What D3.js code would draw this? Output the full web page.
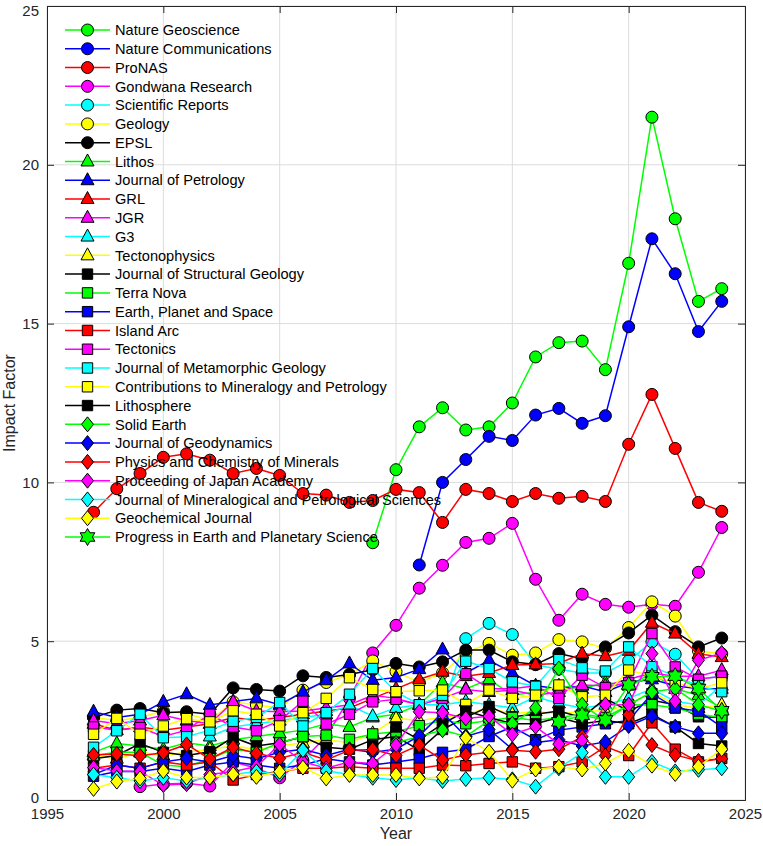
<!DOCTYPE html>
<html>
<head>
<meta charset="utf-8">
<script src="https://cdn.jsdelivr.net/npm/d3@7"></script>
<style>
body{margin:0;background:#fff;}
text{font-family:"Liberation Sans",Arial,Helvetica,sans-serif;}
</style>
</head>
<body>
<div id="wrapper"></div>
<script>
var years = d3.range(1997, 2025);
var xTicks = [1995,2000,2005,2010,2015,2020,2025];
var yTicks = [0,5,10,15,20,25];

var names = ['Nature Geoscience','Nature Communications','ProNAS','Gondwana Research','Scientific Reports','Geology','EPSL','Lithos','Journal of Petrology','GRL','JGR','G3','Tectonophysics','Journal of Structural Geology','Terra Nova','Earth, Planet and Space','Island Arc','Tectonics','Journal of Metamorphic Geology','Contributions to Mineralogy and Petrology','Lithosphere','Solid Earth','Journal of Geodynamics','Physics and Chemistry of Minerals','Proceeding of Japan Academy','Journal of Mineralogical and Petrological Sciences','Geochemical Journal','Progress in Earth and Planetary Science'];

// impact factor per year, 1997..2024 (null = no value)
var natureGeo = [null,null,null,null,null,null,null,null,null,null,null,null,8.1,10.4,11.75,12.35,11.65,11.75,12.5,13.95,14.4,14.45,13.55,16.9,21.5,18.3,15.7,16.1];
var natureComm = [null,null,null,null,null,null,null,null,null,null,null,null,null,null,7.4,10.0,10.72,11.45,11.32,12.12,12.33,11.86,12.1,14.9,17.67,16.57,14.75,15.7];
var pnas = [9.06,9.8,10.28,10.79,10.9,10.7,10.28,10.44,10.22,9.65,9.6,9.37,9.43,9.78,9.68,8.74,9.78,9.65,9.4,9.65,9.5,9.56,9.4,11.2,12.77,11.07,9.37,9.09];
var gondwana = [null,null,0.42,0.5,0.53,0.44,1.2,1.0,0.7,1.25,2.0,3.2,4.63,5.5,6.67,7.39,8.11,8.24,8.71,6.95,5.66,6.48,6.16,6.07,6.16,6.1,7.17,8.58];
var sciRep = [null,null,null,null,null,null,null,null,null,null,null,null,null,null,null,2.93,5.08,5.56,5.21,4.26,4.12,4.0,4.0,4.38,4.98,4.59,3.8,3.9];
var geology = [2.6,2.5,2.6,2.8,2.73,2.5,3.09,2.99,2.9,3.46,3.7,3.95,4.38,4.04,3.7,4.0,4.64,4.93,4.56,4.63,5.05,4.98,4.77,5.43,6.24,5.79,4.7,4.6];
var epsl = [2.6,2.83,2.88,2.75,2.78,2.7,3.53,3.48,3.43,3.91,3.86,3.95,4.1,4.3,4.19,4.35,4.72,4.72,4.35,4.27,4.61,4.45,4.82,5.26,5.82,5.3,4.82,5.1];
var lithos = [1.5,1.78,1.7,1.6,1.8,1.7,1.9,2.0,2.1,2.2,2.4,2.3,2.6,2.7,3.0,3.7,3.5,3.8,3.3,3.4,3.6,3.5,3.7,3.6,4.0,3.5,3.3,2.9];
var jPetrology = [2.78,2.6,2.7,3.09,3.33,2.99,3.1,3.2,3.0,3.4,3.77,4.3,3.77,3.86,4.12,4.74,4.0,4.4,4.0,3.6,3.5,3.6,3.4,3.7,3.8,3.6,3.5,3.5];
var grl = [2.4,2.2,2.3,2.2,2.3,2.4,2.6,2.5,2.6,2.7,2.8,2.9,3.2,3.5,3.8,4.04,3.9,4.0,4.25,4.27,4.3,4.61,4.53,4.7,5.58,5.24,4.6,4.5];
var jgr = [2.5,2.4,2.5,2.67,2.5,2.4,3.09,2.8,2.78,2.8,2.9,3.0,3.3,3.2,3.0,3.2,3.48,3.4,3.46,3.3,3.4,3.62,3.6,3.8,4.0,3.9,3.9,4.09];
var g3 = [null,null,null,null,null,2.0,2.3,2.4,2.5,2.6,2.7,2.99,2.64,2.9,3.0,3.0,3.1,3.0,2.9,3.25,3.04,2.9,3.0,3.2,3.5,3.1,3.0,3.6];
var tectonophysics = [1.4,1.3,1.5,1.4,1.5,1.6,1.7,1.6,1.7,1.8,1.9,1.8,2.1,2.57,2.5,2.6,2.7,2.9,2.7,2.8,2.7,2.8,2.8,3.0,3.4,3.0,2.9,3.0];
var jsg = [1.3,1.4,1.78,1.5,1.4,1.52,1.97,1.7,1.8,1.99,1.66,1.6,1.9,2.0,1.57,2.22,2.6,2.94,2.62,2.7,2.8,2.6,3.2,2.8,3.14,3.0,2.62,2.6];
var terraNova = [1.4,1.5,1.5,1.1,1.05,1.3,1.6,1.5,1.8,2.0,2.04,1.91,2.08,2.15,2.34,2.5,2.4,2.5,2.6,2.5,2.6,2.7,2.6,2.99,3.0,2.9,2.7,2.6];
var eps = [0.75,0.9,0.9,1.0,0.9,1.1,1.2,1.1,1.0,1.1,1.3,1.2,1.1,1.2,1.3,1.5,1.6,2.0,2.3,1.9,2.2,2.3,2.4,2.5,3.35,2.9,2.8,2.3];
var islandArc = [1.0,1.1,1.0,1.2,1.1,1.2,0.63,0.8,0.9,1.0,1.0,1.05,1.0,1.0,1.0,1.1,1.08,1.15,1.2,1.0,1.05,1.2,1.68,1.4,2.43,1.6,1.2,1.31];
var tectonics = [2.3,2.2,2.28,2.0,2.2,2.7,2.3,2.18,2.5,3.11,2.39,2.7,3.09,3.17,3.0,3.2,3.98,3.5,3.5,3.6,3.2,3.93,3.54,3.7,5.24,4.19,3.8,3.9];
var jmg = [1.66,2.18,2.7,1.96,1.99,2.2,2.48,2.6,3.07,2.33,2.75,3.33,4.14,3.4,3.0,3.3,4.37,4.14,3.72,3.58,4.42,4.16,4.06,4.82,4.2,3.9,3.6,3.41];
var cmp = [2.07,2.57,2.07,2.33,2.56,2.46,2.81,2.7,2.33,2.75,3.2,3.85,3.48,3.41,3.44,3.46,3.01,3.46,3.2,3.3,3.62,3.25,3.3,4.09,3.9,3.7,3.5,3.69];
var lithosphere = [null,null,null,null,null,null,null,null,null,null,null,null,1.6,2.3,1.9,2.4,2.8,2.6,2.4,2.4,2.6,2.4,2.5,2.4,2.7,2.3,1.78,1.7];
var solidEarth = [null,null,null,null,null,null,null,null,null,null,null,null,null,1.8,2.0,2.2,2.0,2.5,2.4,2.9,4.14,3.0,2.5,3.0,3.4,3.51,3.0,2.8];
var jGeodyn = [0.8,1.1,1.0,1.2,1.31,1.2,1.4,1.3,1.5,1.6,1.4,1.6,1.5,1.6,2.02,2.75,2.0,2.22,1.6,1.81,1.9,1.7,1.83,2.33,2.64,2.31,2.1,2.1];
var pcm = [1.42,1.45,1.39,1.49,1.75,1.29,1.66,1.47,1.31,1.5,1.26,1.57,1.59,1.4,1.73,1.26,1.42,1.5,1.57,1.52,1.6,1.99,1.4,2.69,1.73,1.42,1.23,1.3];
var pja = [1.02,0.91,0.9,0.47,0.5,0.8,0.9,1.05,1.75,1.2,1.0,1.2,1.15,1.73,2.78,2.75,2.57,2.64,2.06,2.31,1.76,1.87,3.01,3.0,4.61,3.11,4.4,4.63];
var jmps = [0.8,0.7,0.6,0.7,0.6,0.7,0.8,0.9,0.8,1.57,0.92,0.8,0.7,0.63,0.7,0.6,0.66,0.7,0.65,0.42,1.0,1.49,0.73,0.73,1.2,0.9,0.95,1.0];
var geochemJ = [0.35,0.58,0.68,0.91,0.71,0.71,0.81,0.73,0.89,1.02,0.68,0.79,0.79,0.79,0.68,0.73,1.96,1.52,0.61,0.96,1.05,0.96,1.15,1.55,1.08,0.82,1.05,1.6];
var peps = [null,null,null,null,null,null,null,null,null,null,null,null,null,null,null,null,null,null,null,null,2.46,2.67,2.52,3.62,3.88,3.9,3.51,2.81];

var allSeries = [natureGeo,natureComm,pnas,gondwana,sciRep,geology,epsl,lithos,jPetrology,grl,jgr,g3,tectonophysics,jsg,terraNova,eps,islandArc,tectonics,jmg,cmp,lithosphere,solidEarth,jGeodyn,pcm,pja,jmps,geochemJ,peps];

// style, one entry per series
var seriesColors = ['#00ff00','#0000ff','#ff0000','#ff00ff','#00ffff','#ffff00','#000000',
	'#00ff00','#0000ff','#ff0000','#ff00ff','#00ffff','#ffff00',
	'#000000','#00ff00','#0000ff','#ff0000','#ff00ff','#00ffff','#ffff00','#000000',
	'#00ff00','#0000ff','#ff0000','#ff00ff','#00ffff','#ffff00',
	'#00ff00'];
var seriesMarkers = ['o','o','o','o','o','o','o',
	'^','^','^','^','^','^',
	's','s','s','s','s','s','s','s',
	'd','d','d','d','d','d',
	'h'];

function markerPath(type){
	if(type==='o'){ return 'M6,0A6,6 0 1,1 -6,0A6,6 0 1,1 6,0Z'; }
	if(type==='^'){ return 'M0,-7.5L6.5,4.5L-6.5,4.5Z'; }
	if(type==='s'){ return 'M-5.2,-5.2H5.2V5.2H-5.2Z'; }
	if(type==='d'){ return 'M0,-7.5L6,0L0,7.5L-6,0Z'; }
	// hexagram
	var pts = d3.range(12).map(function(i){
		var a = Math.PI/6*i - Math.PI/2;
		var r = (i%2===0) ? 8.5 : 4.9;
		return [r*Math.cos(a), r*Math.sin(a)];
	});
	return 'M' + pts.join('L') + 'Z';
}

function impactChart(){
	var W = 763, H = 846;
	var left = 47, right = 745, top = 6, bottom = 800;

	var xscale = d3.scaleLinear().domain([1995,2025]).range([left,right]);
	var yscale = d3.scaleLinear().domain([0,25]).range([bottom,top]);

	var svg = d3.select('#wrapper').append('svg')
				.attr('width',W)
				.attr('height',H);

	// grid
	var grid = svg.append('g').attr('id','grid');
	grid.selectAll('line.gx')
		.data(xTicks)
		.enter().append('line')
		.attr('x1',function(d){ return xscale(d); })
		.attr('x2',function(d){ return xscale(d); })
		.attr('y1',top).attr('y2',bottom)
		.style('stroke','#dcdcdc').style('stroke-width','1px');
	grid.selectAll('line.gy')
		.data(yTicks)
		.enter().append('line')
		.attr('y1',function(d){ return yscale(d); })
		.attr('y2',function(d){ return yscale(d); })
		.attr('x1',left).attr('x2',right)
		.style('stroke','#dcdcdc').style('stroke-width','1px');

	// series
	var line = d3.line()
				.defined(function(d){ return d.v !== null; })
				.x(function(d){ return xscale(d.yr); })
				.y(function(d){ return yscale(d.v); });

	var plot = svg.append('g').attr('id','series');
	allSeries.forEach(function(vals,i){
		var pts = vals.map(function(v,j){ return {yr: years[j], v: v}; });
		var g = plot.append('g');
		g.append('path')
			.datum(pts)
			.attr('d',line)
			.style('fill','none')
			.style('stroke',seriesColors[i])
			.style('stroke-width','1.5px');
		g.selectAll('path.m')
			.data(pts.filter(function(d){ return d.v !== null; }))
			.enter().append('path')
			.attr('class','m')
			.attr('d',markerPath(seriesMarkers[i]))
			.attr('transform',function(d){ return 'translate(' + xscale(d.yr) + ',' + yscale(d.v) + ')'; })
			.style('fill',seriesColors[i])
			.style('stroke','#000')
			.style('stroke-width','1px');
	});

	// axes, ticks inward on all four sides
	var axisColor = '#262626';
	var xAxis = d3.axisBottom(xscale).tickValues(xTicks).tickFormat(d3.format('d')).tickSize(-7).tickPadding(8);
	var yAxis = d3.axisLeft(yscale).tickValues(yTicks).tickSize(-7).tickPadding(8);
	var xTop = d3.axisTop(xscale).tickValues(xTicks).tickFormat('').tickSize(-7);
	var yRight = d3.axisRight(yscale).tickValues(yTicks).tickFormat('').tickSize(-7);

	var gx = svg.append('g').attr('transform','translate(0,' + bottom + ')').call(xAxis);
	var gy = svg.append('g').attr('transform','translate(' + left + ',0)').call(yAxis);
	var gt = svg.append('g').attr('transform','translate(0,' + top + ')').call(xTop);
	var gr = svg.append('g').attr('transform','translate(' + right + ',0)').call(yRight);
	[gx,gy,gt,gr].forEach(function(g){
		g.select('.domain').style('stroke',axisColor).style('stroke-width','1px');
		g.selectAll('.tick line').style('stroke',axisColor);
		g.selectAll('text').style('fill',axisColor).style('font-size','15px')
			.style('font-family','"Liberation Sans",Arial,sans-serif');
	});
	gy.selectAll('.tick').filter(function(d){ return d===25; }).select('text').attr('dy','0.6em');
	gy.selectAll('.tick').filter(function(d){ return d===0; }).select('text').attr('dy','0.15em');

	svg.append('text')
		.attr('x',(left+right)/2).attr('y',839)
		.attr('text-anchor','middle')
		.style('font-size','16px').style('fill',axisColor)
		.text('Year');
	svg.append('text')
		.attr('transform','translate(15,' + ((top+bottom)/2) + ') rotate(-90)')
		.attr('text-anchor','middle')
		.style('font-size','16px').style('fill',axisColor)
		.text('Impact Factor');

	// legend (no box, transparent)
	var legend = svg.append('g').attr('id','legend');
	var rowY = d3.scaleLinear().domain([0,27]).range([30,537]);
	names.forEach(function(name,i){
		var y = rowY(i);
		var row = legend.append('g');
		row.append('line')
			.attr('x1',65).attr('x2',110).attr('y1',y).attr('y2',y)
			.style('stroke',seriesColors[i]).style('stroke-width','1.5px');
		row.append('path')
			.attr('d',markerPath(seriesMarkers[i]))
			.attr('transform','translate(87.5,' + y + ')')
			.style('fill',seriesColors[i]).style('stroke','#000').style('stroke-width','1px');
		row.append('text')
			.attr('x',115).attr('y',y).attr('dy','0.36em')
			.style('font-size','14.6px').style('fill','#000')
			.text(name);
	});
}
impactChart();
</script>
</body>
</html>
